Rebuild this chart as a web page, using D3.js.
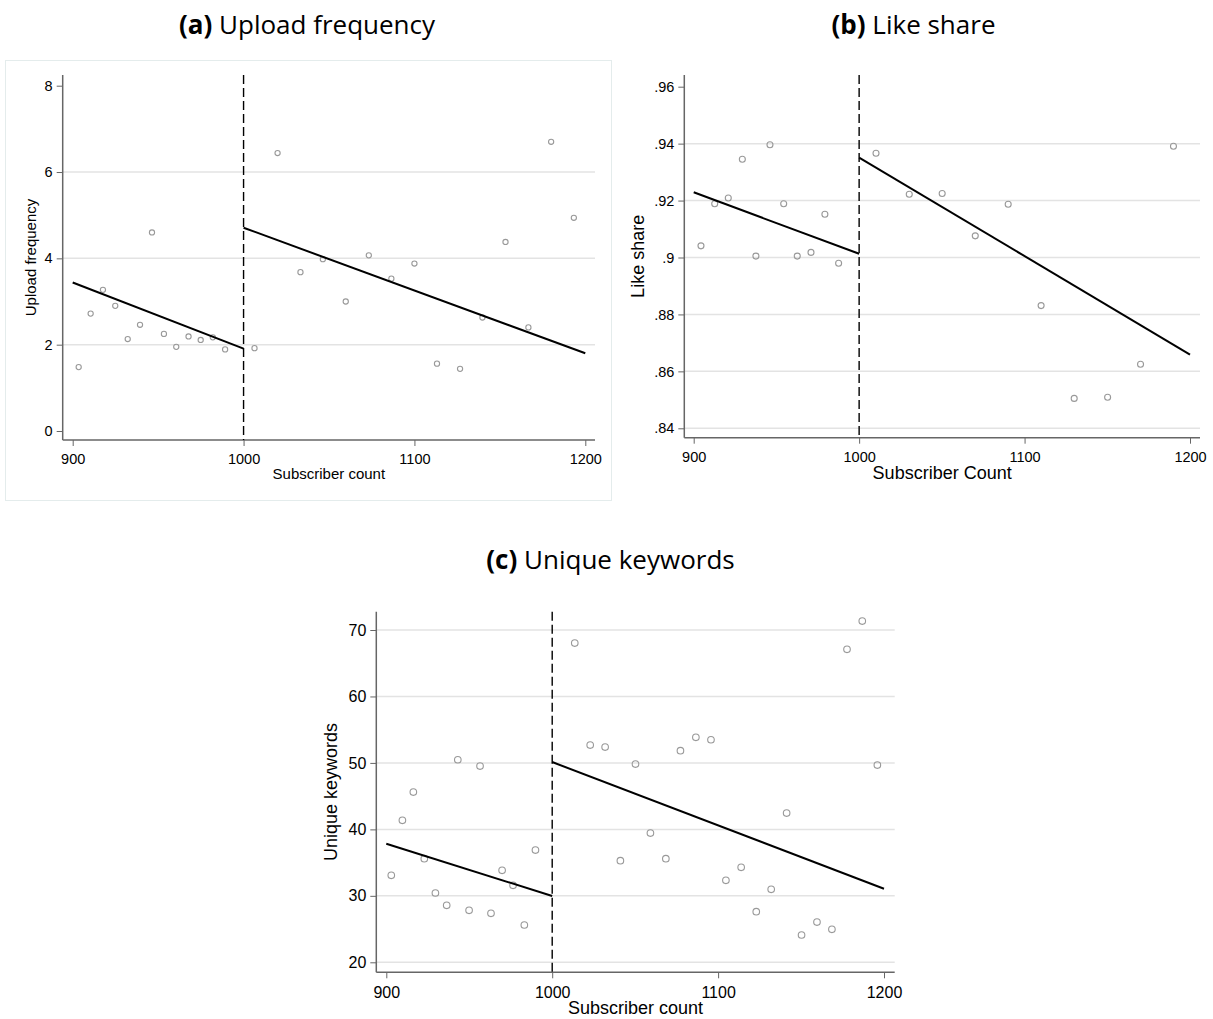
<!DOCTYPE html>
<html>
<head>
<meta charset="utf-8">
<script src="https://cdn.jsdelivr.net/npm/d3@7"></script>
<style>
  body { margin: 0; background: #fff; }
  svg text { font-family: 'Liberation Sans', Arial, sans-serif; fill: #000; }
  text.title { font-family: 'Open Sans', 'Noto Sans', sans-serif; }
</style>
</head>
<body>
<div id="chart"></div>
<script>
// ---- data ----
const upload_x = [903.5, 910.5, 917.7, 924.9, 932.2, 939.4, 946.4, 953.4, 960.6, 967.8, 974.9, 982, 989.2,
                  1006.4, 1019.9, 1033.3, 1046.4, 1059.8, 1073.3, 1086.5, 1100, 1113.2, 1126.7, 1139.8, 1153.3, 1166.7, 1180, 1193.3]
const upload_y = [1.48, 2.72, 3.27, 2.90, 2.13, 2.46, 4.60, 2.25, 1.95, 2.19, 2.11, 2.17, 1.89,
                  1.92, 6.44, 3.68, 3.98, 3.00, 4.07, 3.53, 3.88, 1.56, 1.44, 2.63, 4.38, 2.40, 6.70, 4.94]
const upload_fit = [[[900, 3.44], [1000, 1.91]], [[1000, 4.71], [1200, 1.80]]]
const upload_ticks = [0, 2, 4, 6, 8]
const upload_grid = [2, 4, 6]

const like_x = [904.4, 912.7, 920.9, 929.4, 937.6, 946.1, 954.4, 962.6, 970.9, 979.3, 987.6,
                1010.2, 1030.3, 1050.2, 1070.2, 1090.1, 1110, 1130, 1150.2, 1170.1, 1190]
const like_y = [.9041, .9189, .9209, .9345, .9005, .9396, .9189, .9005, .9018, .9152, .8980,
                .9366, .9222, .9225, .9076, .9187, .8831, .8505, .8509, .8625, .9391]
const like_fit = [[[900, .9229], [1000, .9013]], [[1000, .9351], [1200, .8659]]]
const like_ticks = [.84, .86, .88, .90, .92, .94, .96]
const like_grid = [.84, .86, .88, .90, .92, .94]

const kw_x = [903, 909.7, 916.3, 922.9, 929.6, 936.4, 943.1, 949.9, 956.5, 963.1, 969.8, 976.4, 983.2, 989.9,
              1013.6, 1022.9, 1031.9, 1041.1, 1050.2, 1059.2, 1068.5, 1077.3, 1086.6, 1095.7, 1104.7, 1113.9,
              1123, 1132, 1141.3, 1150.3, 1159.6, 1168.6, 1177.7, 1186.9, 1196]
const kw_y = [33.09, 41.36, 45.62, 35.59, 30.43, 28.58, 50.48, 27.82, 49.53, 27.37, 33.84, 31.58, 25.61, 36.89,
              68.04, 52.69, 52.39, 35.29, 49.83, 39.45, 35.59, 51.84, 53.85, 53.49, 32.34, 34.29,
              27.61, 30.98, 42.46, 24.11, 26.06, 24.96, 67.09, 71.35, 49.68]
const kw_fit = [[[900, 37.84], [1000, 29.98]], [[1000, 50.13], [1200, 31.07]]]
const kw_ticks = [20, 30, 40, 50, 60, 70]

const x_ticks = [900, 1000, 1100, 1200]
const cutoff = 1000

const width = 1213
const height = 1019
const axisFont = "'Liberation Sans', Arial, sans-serif"

const svg = d3.select("#chart")
    .append("svg")
    .attr("width", width)
    .attr("height", height)

// light frame round panel (a)
svg.append("rect")
    .attr("x", 5.5).attr("y", 60.5)
    .attr("width", 606).attr("height", 440)
    .attr("fill", "none")
    .attr("stroke", "#e4ecec")
    .attr("stroke-width", 1)

const panel = function (cfg) {
    const g = svg.append("g")
    const x = d3.scaleLinear().domain([900, 1200]).range(cfg.xr)
    const y = d3.scaleLinear().domain(cfg.yd).range(cfg.yr)
    const f = cfg.frame

    // grid
    g.append("g")
        .selectAll("line")
        .data(cfg.grid)
        .enter().append("line")
        .attr("x1", f.left).attr("x2", f.right)
        .attr("y1", d => y(d)).attr("y2", d => y(d))
        .attr("stroke", "#e3e3e3")
        .attr("stroke-width", 1.5)

    // y axis
    const ya = g.append("g")
        .attr("transform", `translate(${f.left},0)`)
        .call(d3.axisLeft(y).tickValues(cfg.yticks).tickFormat(cfg.yfmt).tickSize(6).tickPadding(4).tickSizeOuter(0))
    ya.attr("font-family", axisFont)
    ya.select(".domain").remove()
    ya.append("line")
        .attr("x1", 0).attr("x2", 0).attr("y1", f.top).attr("y2", f.bottom)
        .attr("stroke", "#666").attr("stroke-width", 1.5)
    ya.selectAll(".tick line").attr("stroke", "#666")
    ya.selectAll("text")
        .style("font-size", cfg.tickSize + "px")
        .attr("fill", "#000")

    // x axis
    const xa = g.append("g")
        .attr("transform", `translate(0,${f.bottom})`)
        .call(d3.axisBottom(x).tickValues(x_ticks).tickFormat(d3.format("d")).tickSize(6).tickPadding(cfg.xpad).tickSizeOuter(0))
    xa.attr("font-family", axisFont)
    xa.select(".domain").remove()
    xa.append("line")
        .attr("x1", f.left).attr("x2", f.right).attr("y1", 0).attr("y2", 0)
        .attr("stroke", "#666").attr("stroke-width", 1.5)
    xa.selectAll(".tick line").attr("stroke", "#666")
    xa.selectAll("text")
        .style("font-size", cfg.tickSize + "px")
        .attr("fill", "#000")

    // cutoff
    g.append("line")
        .attr("x1", x(cutoff)).attr("x2", x(cutoff))
        .attr("y1", f.top).attr("y2", f.bottom)
        .attr("stroke", "#000")
        .attr("stroke-width", 1.4)
        .attr("stroke-dasharray", "9,4")

    // points
    g.append("g")
        .selectAll("circle")
        .data(cfg.xs.map((d, i) => [d, cfg.ys[i]]))
        .enter().append("circle")
        .attr("cx", d => x(d[0]))
        .attr("cy", d => y(d[1]))
        .attr("r", cfg.r)
        .attr("fill", "none")
        .attr("stroke", "#999")
        .attr("stroke-width", 1.1)

    // fits
    const line = d3.line().x(d => x(d[0])).y(d => y(d[1]))
    g.append("g")
        .selectAll("path")
        .data(cfg.fit)
        .enter().append("path")
        .attr("d", line)
        .attr("fill", "none")
        .attr("stroke", "#000")
        .attr("stroke-width", 2)

    // axis titles
    g.append("text")
        .attr("transform", `translate(${cfg.ylab.x},${(f.top + f.bottom) / 2}) rotate(-90)`)
        .attr("text-anchor", "middle")
        .style("font-size", cfg.labSize + "px")
        .text(cfg.ylab.text)
    g.append("text")
        .attr("x", (f.left + f.right) / 2)
        .attr("y", cfg.xlab.y)
        .attr("text-anchor", "middle")
        .style("font-size", cfg.labSize + "px")
        .text(cfg.xlab.text)

    // panel title
    const t = svg.append("text")
        .attr("class", "title")
        .attr("x", cfg.title.x)
        .attr("y", cfg.title.y)
        .attr("text-anchor", "middle")
        .style("font-size", "26px")
    t.append("tspan").style("font-weight", "bold").text(cfg.title.tag)
    t.append("tspan").text(" " + cfg.title.text)
}

panel({
    xs: upload_x, ys: upload_y, fit: upload_fit,
    yd: [0, 8], yticks: upload_ticks, grid: upload_grid, yfmt: d3.format("d"),
    xr: [72.7, 585.3], yr: [431, 85.7],
    frame: {left: 62.7, right: 595, top: 75, bottom: 440},
    r: 2.6, tickSize: 14.5, labSize: 15, xpad: 8,
    ylab: {x: 36, text: "Upload frequency"},
    xlab: {y: 479, text: "Subscriber count"},
    title: {x: 307, y: 34, tag: "(a)", text: "Upload frequency"}
})

panel({
    xs: like_x, ys: like_y, fit: like_fit,
    yd: [.84, .96], yticks: like_ticks, grid: like_grid, yfmt: d => d3.format(".2f")(d).replace(/^0/, "").replace(/0$/, ""),
    xr: [693.7, 1190], yr: [428.3, 86.7],
    frame: {left: 684.3, right: 1200, top: 75, bottom: 437.7},
    r: 3, tickSize: 14.5, labSize: 18, xpad: 8,
    ylab: {x: 644, text: "Like share"},
    xlab: {y: 479, text: "Subscriber Count"},
    title: {x: 913.5, y: 34, tag: "(b)", text: "Like share"}
})

panel({
    xs: kw_x, ys: kw_y, fit: kw_fit,
    yd: [20, 70], yticks: kw_ticks, grid: kw_ticks, yfmt: d3.format("d"),
    xr: [386.3, 884], yr: [962.3, 630],
    frame: {left: 376.3, right: 894.7, top: 611.7, bottom: 972.3},
    r: 3.3, tickSize: 16, labSize: 18, xpad: 8,
    ylab: {x: 337, text: "Unique keywords"},
    xlab: {y: 1014, text: "Subscriber count"},
    title: {x: 610.5, y: 569, tag: "(c)", text: "Unique keywords"}
})
</script>
</body>
</html>
